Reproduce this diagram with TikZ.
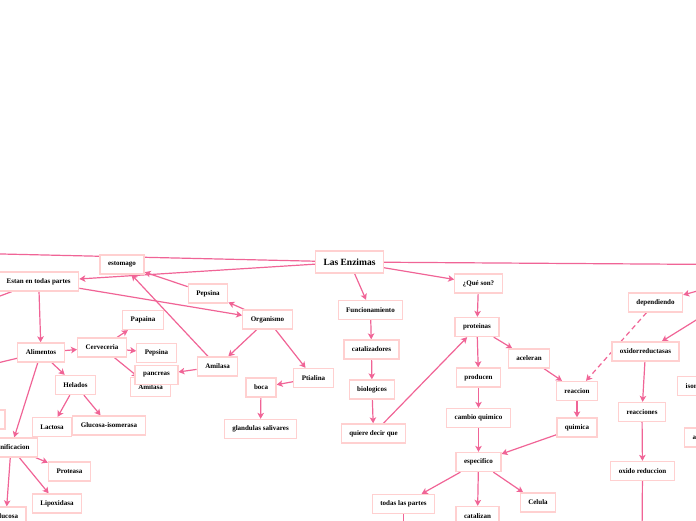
\documentclass[tikz,border=0pt]{standalone}
\usepackage{fontspec}
\setmainfont{Liberation Serif}
\usetikzlibrary{arrows.meta,backgrounds}
\definecolor{linkpink}{RGB}{240,100,150}
\definecolor{boxpink}{RGB}{255,208,208}

\begin{document}
\begin{tikzpicture}[x=1pt,y=-1pt,
        box/.style={draw=boxpink, line width=1.3pt, fill=white, inner xsep=8pt, inner ysep=0pt, minimum height=19pt, font=\bfseries\fontsize{7}{8}\selectfont},
        link/.style={draw=linkpink, line width=1.2pt, -{Stealth[length=6pt,width=6.5pt,inset=1.5pt]}}]
        \useasboundingbox (0,0) rectangle (696,520);
        \node[box, minimum height=22pt, font=\bfseries\fontsize{9.5}{11}\selectfont] (enz) at (349.5,262) {Las Enzimas};
        \node[box] (estomago) at (122,264.5) {estomago};
        \node[box] (estan) at (38.7,281.5) {Estan en todas partes};
        \node[box] (pepsA) at (208,293.5) {Pepsina};
        \node[box] (papaina) at (143,320) {Papaina};
        \node[box] (org) at (267.5,319.5) {Organismo};
        \node[box] (alim) at (41,352.5) {Alimentos};
        \node[box] (cerv) at (102,347.5) {Cerveceria};
        \node[box] (pepsB) at (156.5,353) {Pepsina};
        \node[box] (amilB) at (150.5,387) {Amilasa};
        \node[box] (panc) at (156.5,375) {pancreas};
        \node[box] (amilA) at (217.5,366.5) {Amilasa};
        \node[box] (ptial) at (313.5,378) {Ptialina};
        \node[box] (boca) at (261,387.5) {boca};
        \node[box] (gland) at (260.5,429) {glandulas salivares};
        \node[box] (helados) at (75.5,385) {Helados};
        \node[box] (lactosa) at (52,427) {Lactosa};
        \node[box] (gluciso) at (109,425.5) {Glucosa-isomerasa};
        \node[box, minimum width=40pt] (hidden) at (-15,419.5) {};
        \node[box] (panif) at (11,447.5) {Panificacion};
        \node[box] (proteasa) at (69.5,471.5) {Proteasa};
        \node[box] (lipox) at (57,503.5) {Lipoxidasa};
        \node[box] (glucosa) at (6,516.5) {Glucosa};
        \node[box] (func) at (370.5,310) {Funcionamiento};
        \node[box] (catal) at (371.5,349.5) {catalizadores};
        \node[box] (biol) at (372,389.5) {biologicos};
        \node[box] (quiere) at (373.5,433.5) {quiere decir que};
        \node[box] (queson) at (478.5,283.5) {¿Qué son?};
        \node[box] (prot) at (477,327) {proteinas};
        \node[box] (acel) at (529,358.5) {aceleran};
        \node[box] (prod) at (478.5,377.5) {producen};
        \node[box] (cambio) at (478.5,418) {cambio quimico};
        \node[box] (espec) at (478.5,462) {especifico};
        \node[box] (todas) at (403.5,504) {todas las partes};
        \node[box] (catalizan) at (477.5,516) {catalizan};
        \node[box] (celula) at (538,502.5) {Celula};
        \node[box] (reaccion) at (577,391) {reaccion};
        \node[box] (quimica) at (577,427.5) {quimica};
        \node[box] (depend) at (655.5,302.5) {dependiendo};
        \node[box] (oxido) at (645.5,351.5) {oxidorreductasas};
        \node[box] (reacciones) at (642,412) {reacciones};
        \node[box] (oxred) at (642.5,471) {oxido reduccion};
        \node[box, anchor=west] (iso) at (677,386) {isomerasas};
        \node[box, anchor=west] (aa) at (684,437.5) {a};
        \coordinate (offL) at (-20,253.5);
        \coordinate (offR) at (720,264.5);
        \coordinate (offR2) at (730,282);
        \coordinate (offR3) at (730,299);
        \coordinate (offEst) at (-40,311);
        \coordinate (offAlim) at (-40,372);
        \coordinate (offTodas) at (403.5,540);
        \coordinate (offOx) at (642,540);
        \begin{pgfonlayer}{background}
        \draw[link] (enz) -- (offL);
        \draw[link] (enz) -- (offR);
        \draw[link] (enz) -- (estan);
        \draw[link] (enz) -- (func);
        \draw[link] (enz) -- (queson);
        \draw[link] (estan) -- (offEst);
        \draw[link] (estan) -- (org);
        \draw[link] (estan) -- (alim);
        \draw[link] (pepsA) -- (estomago);
        \draw[link] (org) -- (pepsA);
        \draw[link] (org) -- (amilA);
        \draw[link] (org) -- (ptial);
        \draw[link] (amilA) -- (estomago);
        \draw[link] (amilA) -- (panc);
        \draw[link] (ptial) -- (boca);
        \draw[link] (boca) -- (gland);
        \draw[link] (alim) -- (offAlim);
        \draw[link] (alim) -- (cerv);
        \draw[link] (alim) -- (helados);
        \draw[link] (alim) -- (panif);
        \draw[link] (cerv) -- (papaina);
        \draw[link] (cerv) -- (pepsB);
        \draw[link] (cerv) -- (amilB);
        \draw[link] (helados) -- (lactosa);
        \draw[link] (helados) -- (gluciso);
        \draw[link] (panif) -- (proteasa);
        \draw[link] (panif) -- (lipox);
        \draw[link] (panif) -- (glucosa);
        \draw[link] (func) -- (catal);
        \draw[link] (catal) -- (biol);
        \draw[link] (biol) -- (quiere);
        \draw[link] (quiere) -- (prot);
        \draw[link] (queson) -- (prot);
        \draw[link] (prot) -- (acel);
        \draw[link] (prot) -- (prod);
        \draw[link] (acel) -- (reaccion);
        \draw[link] (prod) -- (cambio);
        \draw[link] (cambio) -- (espec);
        \draw[link] (reaccion) -- (quimica);
        \draw[link] (quimica) -- (espec);
        \draw[link] (espec) -- (todas);
        \draw[link] (espec) -- (catalizan);
        \draw[link] (espec) -- (celula);
        \draw[link] (todas) -- (offTodas);
        \draw[link, dash pattern=on 5pt off 3.5pt] (depend) -- (reaccion);
        \draw[link] (offR2) -- (depend);
        \draw[link] (offR3) -- (oxido);
        \draw[link] (oxido) -- (reacciones);
        \draw[link] (reacciones) -- (oxred);
        \draw[link] (oxred) -- (offOx);
        \end{pgfonlayer}
    \end{tikzpicture}
\end{document}
